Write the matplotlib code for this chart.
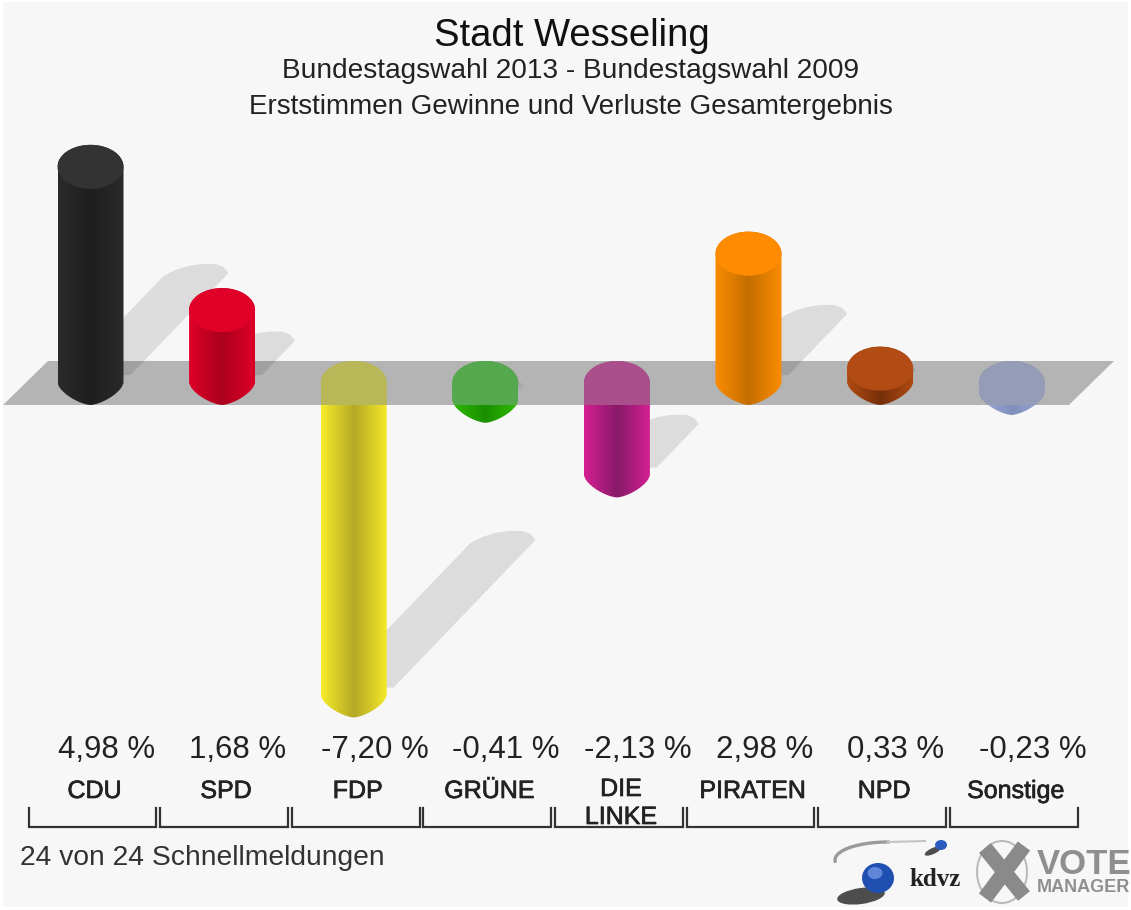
import numpy as np
import matplotlib
matplotlib.use("Agg")
import matplotlib.pyplot as plt
from matplotlib.patches import Ellipse, PathPatch, Polygon, Rectangle
from matplotlib.path import Path
from matplotlib.colors import LinearSegmentedColormap
import matplotlib.patheffects as pe

plt.rcParams['font.family'] = ['Liberation Sans', 'DejaVu Sans']

# ---------- data ----------
parties = ["CDU", "SPD", "FDP", "GRÜNE", "DIE\nLINKE", "PIRATEN", "NPD", "Sonstige"]
values = [4.98, 1.68, -7.20, -0.41, -2.13, 2.98, 0.33, -0.23]
value_labels = ["4,98 %", "1,68 %", "-7,20 %", "-0,41 %", "-2,13 %", "2,98 %", "0,33 %", "-0,23 %"]
edge_colors = ["#2b2b2b", "#de0027", "#f6ec28", "#2fbb02", "#d61f94", "#fb8c00", "#b14a12", "#9ba8d2"]
mid_colors = ["#1e1e1e", "#ab001e", "#b5a826", "#1b8f00", "#871a68", "#c46e00", "#76300a", "#8090bd"]
top_colors = ["#333333", "#e00028", "#ffff1e", "#15d900", "#dd0796", "#ff8c00", "#b24b14", "#aabcff"]

title = "Stadt Wesseling"
subtitle1 = "Bundestagswahl 2013 - Bundestagswahl 2009"
subtitle2 = "Erststimmen Gewinne und Verluste Gesamtergebnis"
footer = "24 von 24 Schnellmeldungen"

# ---------- layout ----------
W, H = 1131, 910
PX_X, PX_Y = 131.6, 43.4          # pixels per category, pixels per percent
X0, Y0 = 90.5, 383.0              # pixel of category 0 / of zero
HALF_W = 33 / PX_X
CAP = 22 / PX_Y

fig = plt.figure(figsize=(W / 100, H / 100), dpi=100, facecolor="white")

bg = fig.add_axes([0, 0, 1, 1], zorder=0)
bg.set_xlim(0, W); bg.set_ylim(H, 0); bg.axis("off")
bg.add_patch(Rectangle((3, 2), W - 6, H - 5, fc="#f7f7f7", ec="none"))

ax = fig.add_axes([0, 0, 1, 1], zorder=1)
ax.patch.set_alpha(0)
ax.axis("off")
ax.set_xlim(-X0 / PX_X, (W - X0) / PX_X)
ax.set_ylim((Y0 - H) / PX_Y, Y0 / PX_Y)

# zero plane
ax.add_patch(Polygon([(-0.665, -CAP), (-0.323, CAP), (7.777, CAP), (7.435, -CAP)],
                     closed=True, fc="#858585", ec="none", alpha=0.58, zorder=2))


def capsule_path(i, lo, hi):
    t = np.linspace(np.pi, 0, 40)
    top_x = i + HALF_W * np.cos(t)
    top_y = hi + CAP * np.sin(t)
    p = 1.5
    u = np.linspace(0, 1, 40)
    bot_x = i + HALF_W * (1 - 2 * u)
    bot_y = lo - CAP * (1 - np.abs(2 * u - 1) ** p) ** (1 / p)
    xs = np.concatenate([top_x, bot_x])
    ys = np.concatenate([top_y, bot_y])
    return Path(np.column_stack([xs, ys]))


def shadow_polygon(i, v, zbase):
    bx, by = i, min(v, 0)
    tx = bx + abs(v) * 19.7 / PX_X
    ty = by + abs(v) * 20.5 / PX_Y
    f = min(1.0, 0.6 + 0.4 * abs(v))
    cap = [(-25, 5), (-13, 11), (0, 15), (13, 17), (27, 17), (35, 14), (40, 8)]
    pts = [(bx - 25 * f / PX_X, by + 5 / PX_Y)]
    pts += [(tx + a * f / PX_X, ty + b * f / PX_Y) for a, b in cap]
    pts += [(bx + 40 * f / PX_X, by + 8 / PX_Y)]
    return Polygon(pts, closed=True, fc="black", ec="none", alpha=0.105, zorder=zbase)


for i, (v, ec_, mc, tc) in enumerate(zip(values, edge_colors, mid_colors, top_colors)):
    pos = v > 0
    z = 4 if pos else 1.5
    ax.add_patch(shadow_polygon(i, v, 3 if pos else 1))
    lo, hi = min(v, 0), max(v, 0)
    cm = LinearSegmentedColormap.from_list("c", [ec_, mc, ec_])
    im = ax.imshow(np.linspace(0, 1, 256)[None, :], cmap=cm, aspect="auto",
                   extent=(i - HALF_W, i + HALF_W, lo - 2 * CAP, hi + 2 * CAP),
                   zorder=z, interpolation="bilinear")
    clip = PathPatch(capsule_path(i, lo, hi), transform=ax.transData, fc="none", ec="none")
    im.set_clip_path(clip)
    ax.add_patch(Ellipse((i, hi), 2 * HALF_W, 2 * CAP, fc=tc, ec="none", zorder=z + 0.1))
    if not pos:
        # part of a falling bar seen through the plane reads as one flat colour
        flat = Rectangle((i - HALF_W, -CAP), 2 * HALF_W, CAP, fc=tc, ec="none", zorder=z + 0.1)
        ax.add_patch(flat)
        flat.set_clip_path(clip)

ax.set_xlim(-X0 / PX_X, (W - X0) / PX_X)
ax.set_ylim((Y0 - H) / PX_Y, Y0 / PX_Y)

# value labels, party labels and brackets
xt = ax.get_xaxis_transform()
stroke = [pe.withStroke(linewidth=0.5, foreground="#222222")]
for i, (p, lab) in enumerate(zip(parties, value_labels)):
    ax.text(i - 0.25, 1 - 750 / H, lab, transform=xt, ha="left", va="center",
            fontsize=22.5, color="#222222")
    if "\n" in p:
        a, b = p.split("\n")
        for s, yy in ((a, 789), (b, 817)):
            ax.text(i + 0.03, 1 - yy / H, s, transform=xt, ha="center", va="center",
                    fontsize=18, color="#222222", path_effects=stroke)
    else:
        ax.text(i + 0.03, 1 - 791 / H, p, transform=xt, ha="center", va="center",
                fontsize=18, color="#222222", path_effects=stroke)
    l, r = i + 0.015 - 0.486, i + 0.015 + 0.486
    ax.plot([l, l, r, r], [1 - 808 / H, 1 - 827 / H, 1 - 827 / H, 1 - 808 / H], transform=xt,
            color="#333333", lw=1.6, solid_joinstyle="miter", clip_on=False, zorder=5)

# titles
bg.text(572, 36, title, ha="center", va="center", fontsize=27.5, color="#111111")
bg.text(571, 71, subtitle1, ha="center", va="center", fontsize=20.2, color="#222222")
bg.text(571, 107, subtitle2, ha="center", va="center", fontsize=20, color="#222222")
bg.text(20, 858, footer, ha="left", va="center", fontsize=20.3, color="#333333")

# logos (decoration)
arc_t = np.linspace(np.pi * 1.02, np.pi * 0.5, 40)
bg.plot(888 + 53 * np.cos(arc_t), 860 - 18 * np.sin(arc_t), color="#9a9a9a", lw=2.4)
bg.plot([888, 925], [842, 841], color="#c4c4c4", lw=1.5)
bg.add_patch(Ellipse((861, 896), 48, 16, angle=-8, fc="#222222", ec="none", alpha=0.8))
bg.add_patch(Ellipse((878, 878), 32, 30, fc="#1f4fb0", ec="none"))
bg.add_patch(Ellipse((875, 873), 15, 12, fc="#5f86d8", ec="none"))
bg.add_patch(Ellipse((933, 851), 18, 6, angle=-25, fc="#222222", ec="none", alpha=0.8))
bg.add_patch(Ellipse((941, 845), 12, 10, fc="#2a5cc0", ec="none"))
bg.text(935, 880, "kdvz", ha="center", va="center", fontsize=18, family="Liberation Serif",
        fontweight="bold", color="#222222")
bg.plot([985, 1024], [848, 896], color="#8a8a8a", lw=11, solid_capstyle="butt")
bg.plot([1024, 985], [846, 898], color="#8a8a8a", lw=11, solid_capstyle="butt")
bg.add_patch(Ellipse((1002, 872), 50, 62, fc="none", ec="#bcbcbc", lw=1.5))
bg.text(1037, 864, "VOTE", ha="left", va="center", fontsize=25, fontweight="bold", color="#8f8f8f")
bg.text(1037, 888, "MANAGER", ha="left", va="center", fontsize=13, fontweight="bold", color="#8f8f8f")

fig.savefig("out.png", dpi=100, facecolor=fig.get_facecolor())
